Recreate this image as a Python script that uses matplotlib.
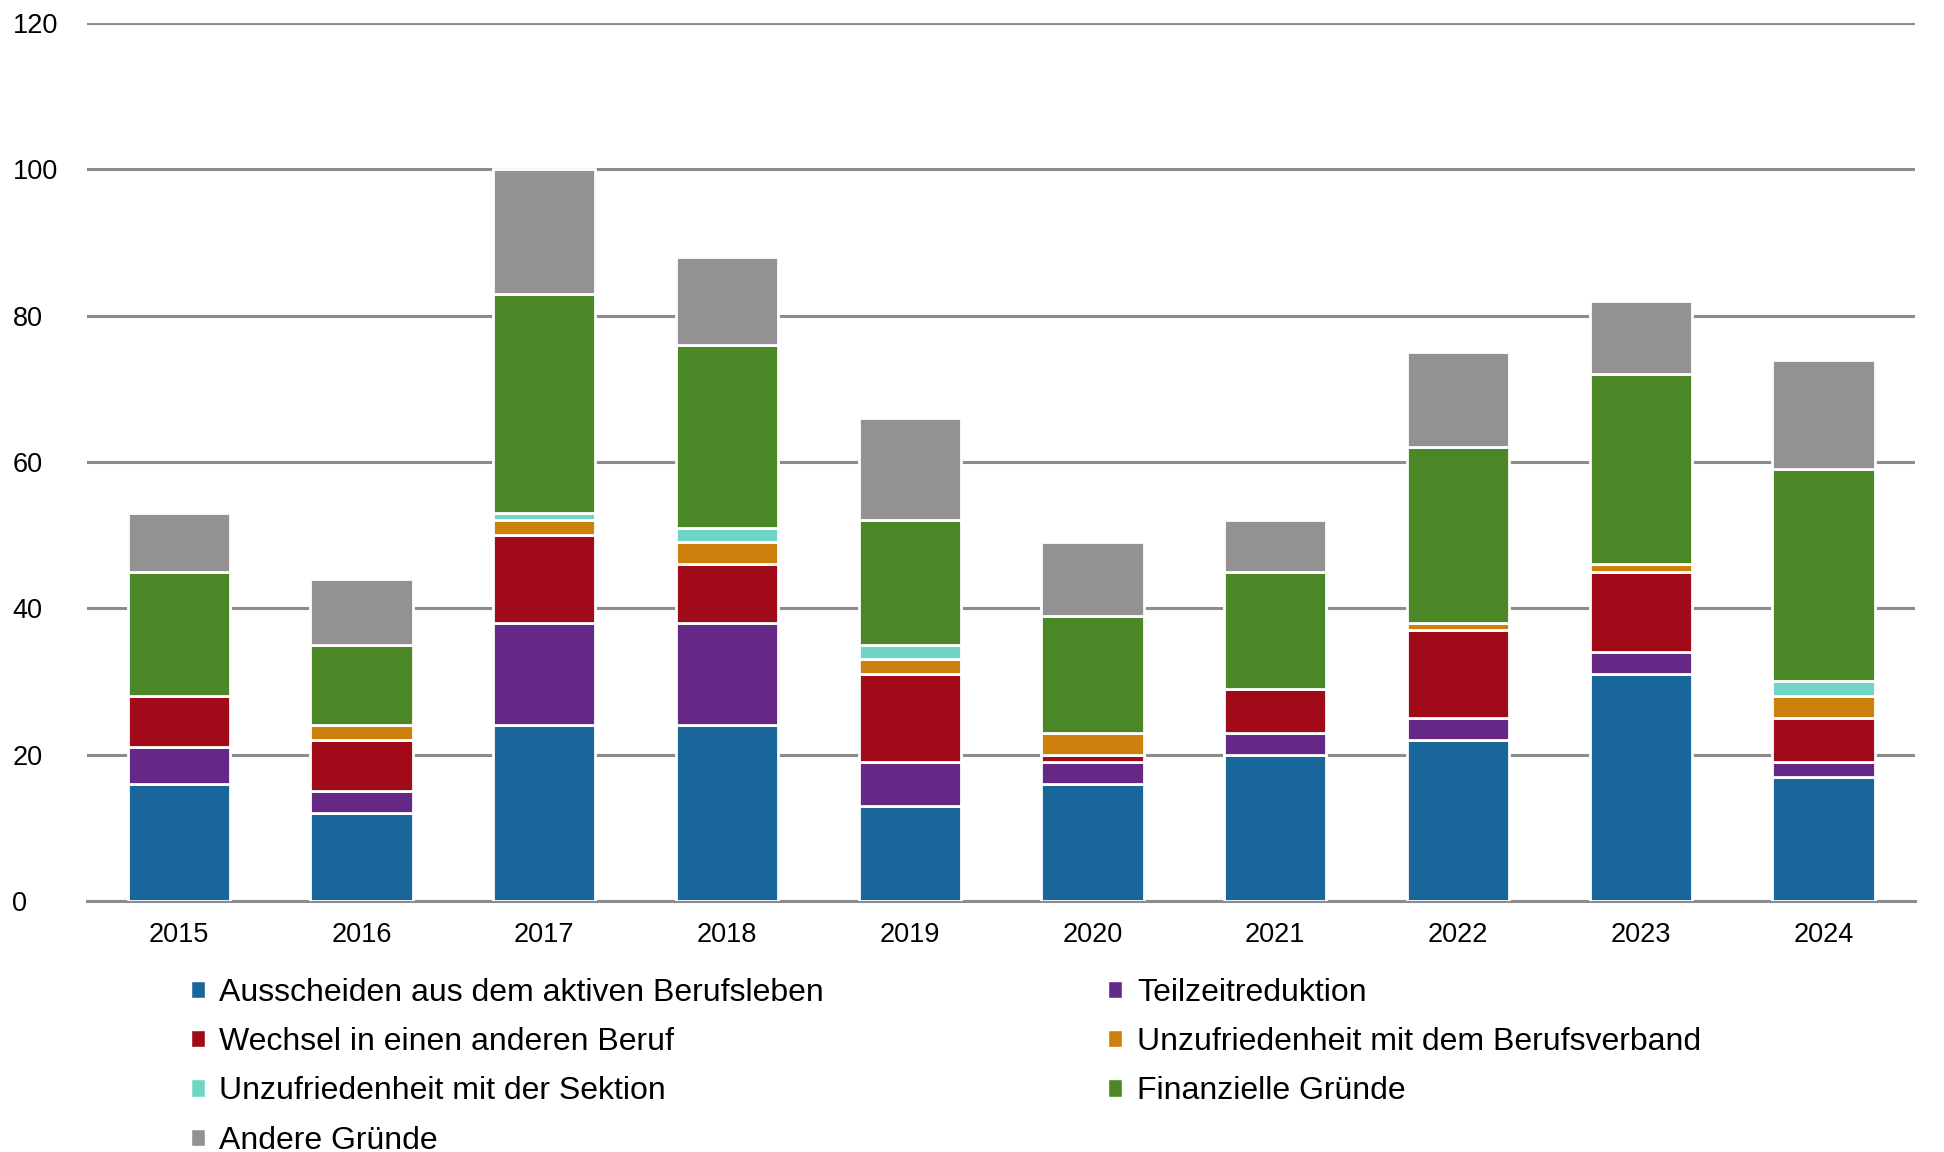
import numpy as np
import matplotlib.pyplot as plt
from matplotlib.patches import Patch

plt.rcParams['font.family'] = ['Liberation Sans', 'DejaVu Sans']

years = ['2015', '2016', '2017', '2018', '2019', '2020', '2021', '2022', '2023', '2024']

# Anzahl Austritte nach Grund
ausscheiden = [16, 12, 24, 24, 13, 16, 20, 22, 31, 17]
teilzeit = [5, 3, 14, 14, 6, 3, 3, 3, 3, 2]
wechsel = [7, 7, 12, 8, 12, 1, 6, 12, 11, 6]
unzuf_verband = [0, 2, 2, 3, 2, 3, 0, 1, 1, 3]
unzuf_sektion = [0, 0, 1, 2, 2, 0, 0, 0, 0, 2]
finanziell = [17, 11, 30, 25, 17, 16, 16, 24, 26, 29]
andere = [8, 9, 17, 12, 14, 10, 7, 13, 10, 15]

labels = ['Ausscheiden aus dem aktiven Berufsleben', 'Teilzeitreduktion',
          'Wechsel in einen anderen Beruf', 'Unzufriedenheit mit dem Berufsverband',
          'Unzufriedenheit mit der Sektion', 'Finanzielle Gründe', 'Andere Gründe']
colors = ['#19669b', '#652887', '#a00a19', '#cd800b', '#6fd6c5', '#4b8726', '#929292']
series = [ausscheiden, teilzeit, wechsel, unzuf_verband, unzuf_sektion, finanziell, andere]

fig = plt.figure(figsize=(19.44, 11.52), dpi=100)
ax = fig.add_axes([0.045, 0.218, 0.94, 0.762])

x = np.arange(len(years))
bottom = np.zeros(len(years))
for vals, col in zip(series, colors):
    vals = np.array(vals, dtype=float)
    ax.bar(x, vals, bottom=bottom, width=0.56, color=col, edgecolor='white',
           linewidth=2, zorder=3)
    bottom += vals

ax.set_xlim(-0.5, len(years) - 0.5)
ax.set_ylim(0, 120)
ax.set_yticks(range(0, 121, 20))
ax.set_xticks(x)
ax.set_xticklabels(years)
ax.grid(axis='y', color='#8c8c8c', linewidth=2.2, zorder=0)
for s in ['left', 'right', 'top']:
    ax.spines[s].set_visible(False)
ax.spines['bottom'].set_color('#8c8c8c')
ax.spines['bottom'].set_linewidth(2.2)
ax.tick_params(axis='both', length=0, labelsize=19.5, colors='black')
ax.tick_params(axis='x', pad=15)
ax.tick_params(axis='y', pad=54)
for lab in ax.get_yticklabels():
    lab.set_horizontalalignment('left')

handles = [Patch(facecolor=c, edgecolor='white') for c in colors]
left_idx = [0, 2, 4, 6]
right_idx = [1, 3, 5]
common = dict(frameon=False, fontsize=23, handlelength=0.45, handleheight=0.45,
              handletextpad=0.45, labelspacing=0.6, borderaxespad=0, borderpad=0)
fig.legend([handles[i] for i in left_idx], [labels[i] for i in left_idx],
           loc='upper left', bbox_to_anchor=(0.098, 0.151), **common)
fig.legend([handles[i] for i in right_idx], [labels[i] for i in right_idx],
           loc='upper left', bbox_to_anchor=(0.570, 0.151), **common)

fig.savefig('out.png', dpi=100)
